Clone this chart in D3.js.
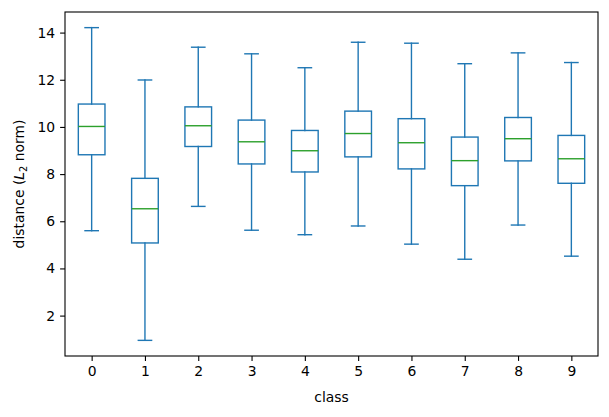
<!DOCTYPE html>
<html>
<head>
<meta charset="utf-8">
<script src="https://cdn.jsdelivr.net/npm/d3@7"></script>
<style>
  body { margin: 0; background: #fff; }
  svg { font-family: "DejaVu Sans", sans-serif; }
</style>
</head>
<body>
<svg id="chart" width="609" height="417"></svg>
<script>
"use strict";

// box statistics per class
var classes = ["0", "1", "2", "3", "4", "5", "6", "7", "8", "9"];
var whiskerLow = [5.60, 0.95, 6.63, 5.62, 5.43, 5.80, 5.03, 4.39, 5.84, 4.52];
var q1 = [8.82, 5.08, 9.17, 8.43, 8.09, 8.73, 8.22, 7.51, 8.56, 7.61];
var medians = [10.02, 6.53, 10.05, 9.37, 8.99, 9.72, 9.33, 8.57, 9.50, 8.65];
var q3 = [10.97, 7.82, 10.85, 10.29, 9.85, 10.67, 10.35, 9.57, 10.40, 9.64];
var whiskerHigh = [14.21, 11.99, 13.38, 13.10, 12.51, 13.59, 13.55, 12.68, 13.14, 12.73];
var yTicks = [2, 4, 6, 8, 10, 12, 14];

var margin = {top: 12, right: 11, bottom: 61, left: 65};
var width = 609 - margin.left - margin.right;
var height = 417 - margin.top - margin.bottom;

var svg = d3.select('#chart');
var g = svg.append('g')
    .attr('transform', 'translate(' + margin.left + ',' + margin.top + ')');

// matplotlib-like: positions 1..n, xlim 0.5..n+0.5
var x = d3.scaleLinear()
    .domain([0.5, classes.length + 0.5])
    .range([0, width]);

var lo = d3.min(whiskerLow), hi = d3.max(whiskerHigh);
var pad = (hi - lo) * 0.05;
var y = d3.scaleLinear()
    .domain([lo - pad, hi + pad])
    .range([height, 0]);

var boxes = classes.map(function(c, i) {
    return {
        pos: i + 1,
        low: whiskerLow[i],
        q1: q1[i],
        med: medians[i],
        q3: q3[i],
        high: whiskerHigh[i]
    };
});

var boxColor = '#1f77b4';
var medColor = '#2ca02c';
var lw = 1.4;
var boxHalf = 0.25;
var capHalf = 0.125;

var box = g.selectAll('.box')
    .data(boxes)
    .enter()
    .append('g')
    .attr('class', 'box')
    .attr('stroke-linecap', 'square');

// whiskers
box.append('line')
    .attr('x1', function(d) { return x(d.pos); })
    .attr('x2', function(d) { return x(d.pos); })
    .attr('y1', function(d) { return y(d.q3); })
    .attr('y2', function(d) { return y(d.high); })
    .attr('stroke', boxColor).attr('stroke-width', lw);

box.append('line')
    .attr('x1', function(d) { return x(d.pos); })
    .attr('x2', function(d) { return x(d.pos); })
    .attr('y1', function(d) { return y(d.q1); })
    .attr('y2', function(d) { return y(d.low); })
    .attr('stroke', boxColor).attr('stroke-width', lw);

// caps
['high', 'low'].forEach(function(key) {
    box.append('line')
        .attr('x1', function(d) { return x(d.pos - capHalf); })
        .attr('x2', function(d) { return x(d.pos + capHalf); })
        .attr('y1', function(d) { return y(d[key]); })
        .attr('y2', function(d) { return y(d[key]); })
        .attr('stroke', boxColor).attr('stroke-width', lw);
});

// boxes
box.append('rect')
    .attr('x', function(d) { return x(d.pos - boxHalf); })
    .attr('width', function(d) { return x(d.pos + boxHalf) - x(d.pos - boxHalf); })
    .attr('y', function(d) { return y(d.q3); })
    .attr('height', function(d) { return y(d.q1) - y(d.q3); })
    .attr('fill', 'none')
    .attr('stroke', boxColor).attr('stroke-width', lw);

// medians
box.append('line')
    .attr('x1', function(d) { return x(d.pos - boxHalf); })
    .attr('x2', function(d) { return x(d.pos + boxHalf); })
    .attr('y1', function(d) { return y(d.med); })
    .attr('y2', function(d) { return y(d.med); })
    .attr('stroke-linecap', 'butt')
    .attr('stroke', medColor).attr('stroke-width', lw);

// axes
var xAxis = d3.axisBottom(x)
    .tickValues(boxes.map(function(d) { return d.pos; }))
    .tickFormat(function(d, i) { return classes[i]; })
    .tickSizeInner(4.9).tickSizeOuter(0).tickPadding(4.9);

var yAxis = d3.axisLeft(y)
    .tickValues(yTicks)
    .tickFormat(d3.format('d'))
    .tickSizeInner(4.9).tickSizeOuter(0).tickPadding(4.9);

var gx = g.append('g')
    .attr('transform', 'translate(0,' + height + ')')
    .call(xAxis);
var gy = g.append('g').call(yAxis);

[gx, gy].forEach(function(a) {
    a.select('.domain').remove();
    a.selectAll('.tick line').attr('stroke', '#000').attr('stroke-width', 1.1);
    a.selectAll('.tick text')
        .attr('fill', '#000')
        .style('font-family', '"DejaVu Sans", sans-serif')
        .style('font-size', '13.9px');
});

// frame
g.append('rect')
    .attr('width', width)
    .attr('height', height)
    .attr('fill', 'none')
    .attr('stroke', '#000')
    .attr('stroke-width', 1.1);

// labels
svg.append('text')
    .attr('x', margin.left + width / 2)
    .attr('y', 402)
    .attr('text-anchor', 'middle')
    .style('font-size', '13.9px')
    .text('class');

var yl = svg.append('text')
    .attr('transform', 'translate(24,' + (margin.top + height / 2) + ') rotate(-90)')
    .attr('text-anchor', 'middle')
    .style('font-size', '13.9px');
yl.append('tspan').text('distance (');
yl.append('tspan').style('font-style', 'italic').text('L');
yl.append('tspan').attr('dy', 3).style('font-size', '9.7px').text('2');
yl.append('tspan').attr('dy', -3).text(' norm)');
</script>
</body>
</html>
